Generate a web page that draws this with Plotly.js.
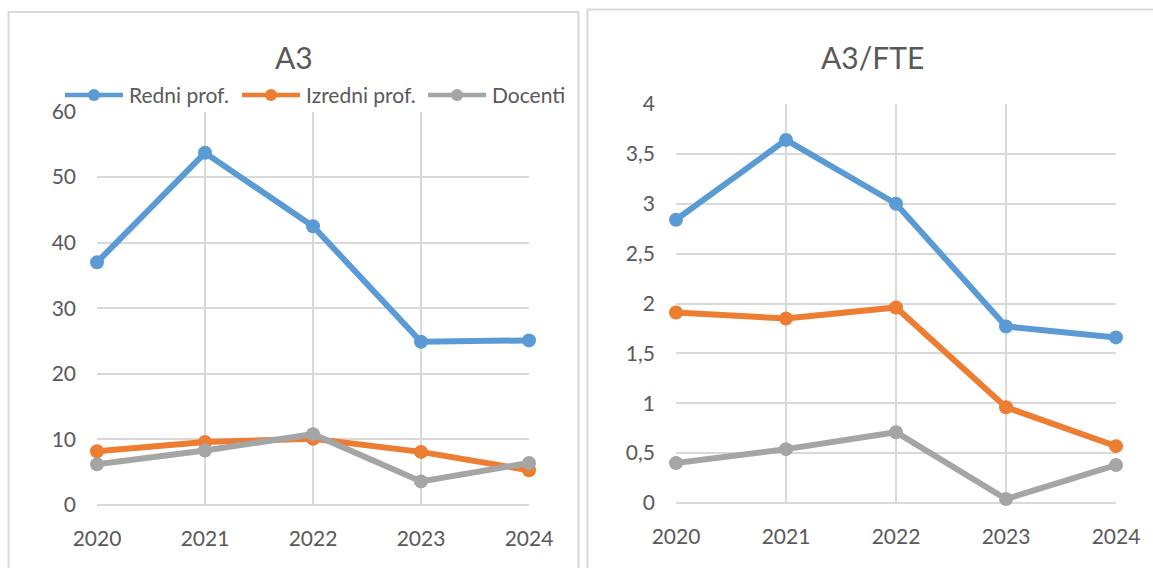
<!DOCTYPE html>
<html>
<head>
<meta charset="utf-8">
<script src="https://cdn.plot.ly/plotly-3.0.1.min.js"></script>
<style>
html,body{margin:0;padding:0;background:#fff;}
#chart{width:1153px;height:568px;}
</style>
</head>
<body>
<div id="chart"></div>
<script>
const years = ['2020','2021','2022','2023','2024'];
const seriesNames = ['Redni prof.','Izredni prof.','Docenti'];
const colors = ['#5B9BD5','#ED7D31','#A5A5A5'];

// A3
const a3Redni = [37.0, 53.7, 42.5, 24.9, 25.1];
const a3Izredni = [8.2, 9.6, 10.1, 8.1, 5.3];
const a3Docenti = [6.2, 8.3, 10.8, 3.6, 6.4];

// A3/FTE
const fteRedni = [2.84, 3.64, 3.00, 1.77, 1.66];
const fteIzredni = [1.91, 1.85, 1.96, 0.96, 0.57];
const fteDocenti = [0.40, 0.54, 0.71, 0.04, 0.38];

const titles = ['A3', 'A3/FTE'];

const W = 1153, H = 568;
const px = v => v / W;
const py = v => 1 - v / H;

function mk(y, i, xa, ya) {
  return {
    x: years, y: y, name: seriesNames[i], xaxis: xa, yaxis: ya,
    type: 'scatter', mode: 'lines+markers', showlegend: false,
    cliponaxis: false,
    line: {color: colors[i], width: 6},
    marker: {color: colors[i], size: 14}
  };
}

const data = [
  mk(a3Redni, 0, 'x', 'y'),
  mk(a3Izredni, 1, 'x', 'y'),
  mk(a3Docenti, 2, 'x', 'y'),
  mk(fteRedni, 0, 'x2', 'y2'),
  mk(fteIzredni, 1, 'x2', 'y2'),
  mk(fteDocenti, 2, 'x2', 'y2')
];

const fontFam = 'Lato, "Noto Sans", sans-serif';
const tickFont = {family: fontFam, size: 21, color: '#595959'};
const gridCol = '#d9d9d9';

function xax(domain, anchor) {
  return {
    type: 'category', domain: domain, anchor: anchor, range: [0, 4],
    showgrid: true, gridcolor: gridCol, gridwidth: 2,
    showline: false, zeroline: false, ticks: '',
    ticklabelstandoff: 19, tickfont: tickFont, fixedrange: true
  };
}
function yax(domain, anchor, range, dtick) {
  return {
    domain: domain, anchor: anchor, range: range, dtick: dtick,
    showgrid: true, gridcolor: gridCol, gridwidth: 2,
    zeroline: true, zerolinecolor: gridCol, zerolinewidth: 2,
    showline: false, ticks: '',
    ticklabelstandoff: 20, tickfont: tickFont, fixedrange: true
  };
}

// custom legend (Excel-style long line keys)
const legendTextX = [127, 304, 490];
const legendY = 95;
const legendShapes = [];
const legendAnn = [];
seriesNames.forEach((n, i) => {
  const tx = legendTextX[i];
  legendShapes.push({type: 'line', xref: 'paper', yref: 'paper',
    x0: px(tx - 62), x1: px(tx - 4), y0: py(legendY), y1: py(legendY),
    line: {color: colors[i], width: 4.5}});
  legendShapes.push({type: 'circle', xref: 'paper', yref: 'paper',
    x0: px(tx - 39), x1: px(tx - 27), y0: py(legendY + 6), y1: py(legendY - 6),
    fillcolor: colors[i], line: {color: colors[i], width: 0}});
  legendAnn.push({text: n, xref: 'paper', yref: 'paper', x: px(tx), y: py(legendY),
    xanchor: 'left', yanchor: 'middle', showarrow: false,
    font: {family: fontFam, size: 21, color: '#595959'}});
});

const layout = {
  width: W, height: H,
  margin: {l: 0, r: 0, t: 0, b: 0},
  paper_bgcolor: '#ffffff', plot_bgcolor: '#ffffff',
  separators: ', ',
  font: {family: fontFam, color: '#595959'},
  xaxis: xax([px(97), px(529)], 'y'),
  yaxis: yax([py(505), py(111.5)], 'x', [0, 60], 10),
  xaxis2: xax([px(676), px(1116)], 'y2'),
  yaxis2: yax([py(503), py(104)], 'x2', [0, 4], 0.5),
  showlegend: false,
  annotations: [
    {text: titles[0], xref: 'paper', yref: 'paper', x: px(293.5), y: py(57),
     xanchor: 'center', yanchor: 'middle', showarrow: false,
     font: {family: fontFam, size: 30, color: '#595959'}},
    {text: titles[1], xref: 'paper', yref: 'paper', x: px(872), y: py(57),
     xanchor: 'center', yanchor: 'middle', showarrow: false,
     font: {family: fontFam, size: 30, color: '#595959'}}
  ].concat(legendAnn),
  shapes: [
    {type: 'rect', xref: 'paper', yref: 'paper', x0: px(8.5), x1: px(578.5), y0: -0.05, y1: py(12),
     line: {color: '#d9d9d9', width: 2}, fillcolor: 'rgba(0,0,0,0)', layer: 'below'},
    {type: 'rect', xref: 'paper', yref: 'paper', x0: px(587.5), x1: 1.05, y0: -0.05, y1: py(9.5),
     line: {color: '#d9d9d9', width: 2}, fillcolor: 'rgba(0,0,0,0)', layer: 'below'}
  ].concat(legendShapes)
};

Plotly.newPlot('chart', data, layout, {staticPlot: true, displayModeBar: false});
</script>
</body>
</html>
